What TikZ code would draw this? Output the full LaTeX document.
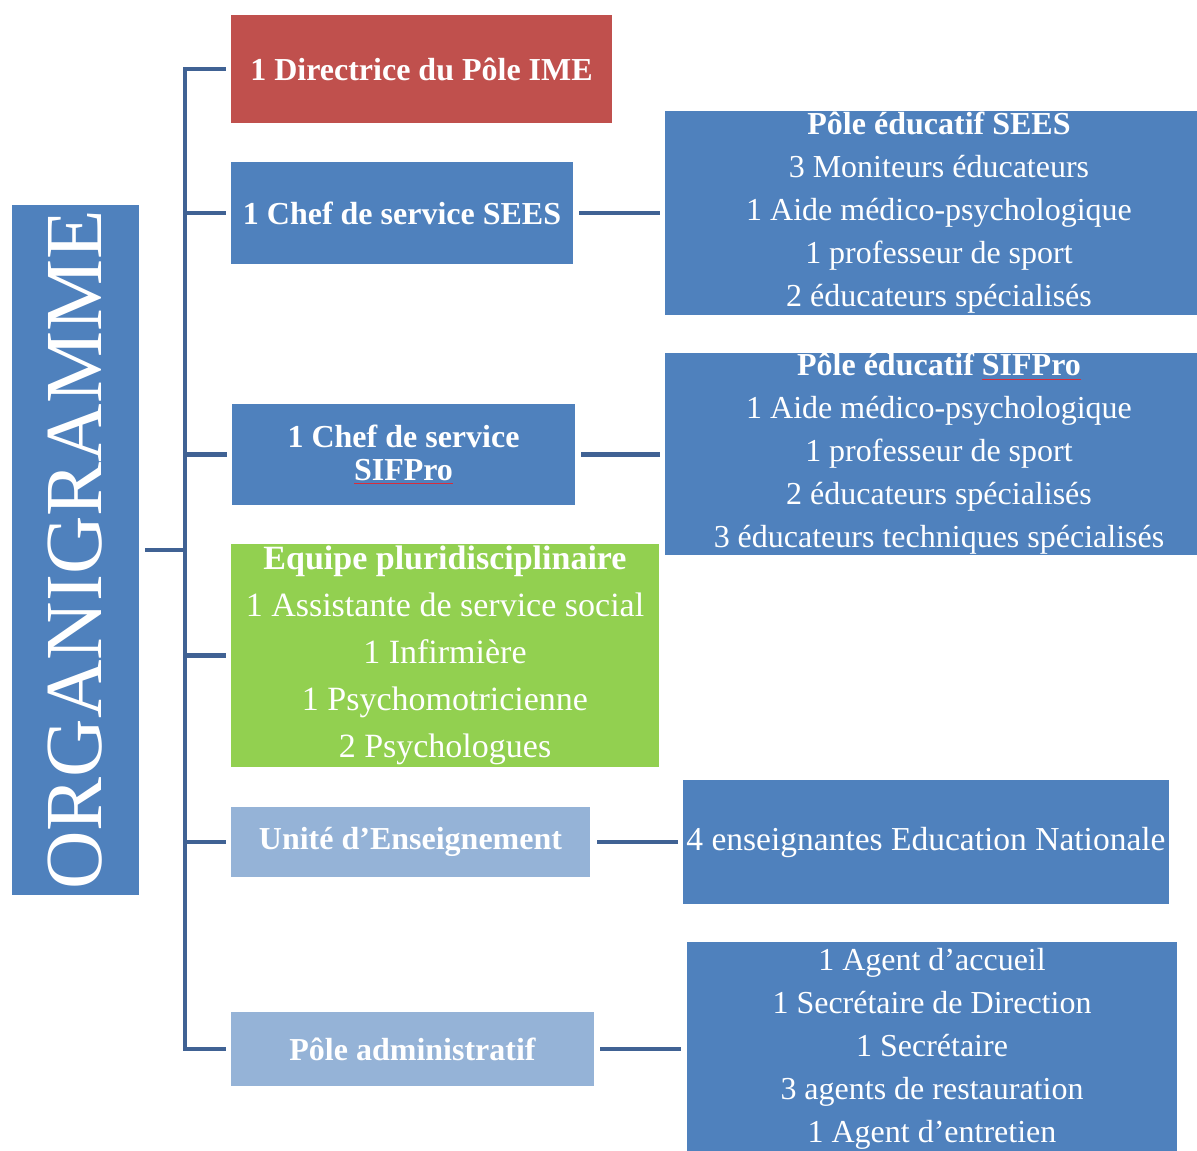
\documentclass[tikz,border=0pt]{standalone}
\usepackage{fontspec}
\setmainfont{Liberation Serif}
\usepackage{xcolor}
\usepackage{tikz}
\usetikzlibrary{positioning}

\definecolor{dirred}{HTML}{C0504D}
\definecolor{boxblue}{HTML}{4F81BD}
\definecolor{boxgreen}{HTML}{92D050}
\definecolor{paleblue}{HTML}{95B3D7}
\definecolor{linkblue}{RGB}{64,98,148}
\definecolor{spellred}{RGB}{215,45,60}
\newcommand{\spellmark}[1]{\setbox0\hbox{#1}\rlap{\color{spellred}\rule[-4pt]{\wd0}{0.8pt}}\box0}

\begin{document}
\begin{tikzpicture}[x=1pt, y=-1pt,
    orgbox/.style={rectangle, inner sep=0pt, text=white, align=center,
        font=\fontsize{32}{43}\selectfont},
    link/.style={linkblue, line width=4.5pt}]
    \useasboundingbox (0,0) rectangle (1197,1151);
    % title column
    \node[orgbox, fill=boxblue, minimum width=127pt, minimum height=690pt,
        font=\fontsize{81}{81}\selectfont] (org) at (75.5,550) {\rotatebox{90}{ORGANIGRAMME}};
    % first level
    \node[orgbox, fill=dirred, minimum width=381pt, minimum height=108pt] (dir) at (421.5,69) {\bfseries 1 Directrice du Pôle IME};
    \node[orgbox, fill=boxblue, minimum width=342pt, minimum height=102pt] (sees) at (402,213) {\bfseries 1 Chef de service SEES};
    \node[orgbox, fill=boxblue, minimum width=343pt, minimum height=101pt,
        font=\fontsize{32}{33}\selectfont\bfseries] (sifpro) at (403.5,454.5) {1 Chef de service\\ \spellmark{SIFPro}};
    \node[orgbox, fill=boxgreen, minimum width=428pt, minimum height=223pt,
        font=\fontsize{34}{47}\selectfont] (equipe) at (445,655.5) {{\bfseries Equipe pluridisciplinaire}\\ 1 Assistante de service social\\ 1 Infirmière\\ 1 Psychomotricienne\\ 2 Psychologues};
    \node[orgbox, fill=paleblue, minimum width=359pt, minimum height=70pt] (unite) at (410.5,842) {\bfseries Unité d’Enseignement};
    \node[orgbox, fill=paleblue, minimum width=363pt, minimum height=74pt] (admin) at (412.5,1049) {\bfseries Pôle administratif};
    % second level
    \node[orgbox, fill=boxblue, minimum width=548pt, minimum height=204pt] (psees) at (939,213) {{\bfseries Pôle éducatif SEES}\\ 3 Moniteurs éducateurs\\ 1 Aide médico-psychologique\\ 1 professeur de sport\\ 2 éducateurs spécialisés};
    \node[orgbox, fill=boxblue, minimum width=548pt, minimum height=200pt] (psifpro) at (939,454) {{\bfseries Pôle éducatif \spellmark{SIFPro}}\\ 1 Aide médico-psychologique\\ 1 professeur de sport\\ 2 éducateurs spécialisés\\ 3 éducateurs techniques spécialisés};
    \node[orgbox, fill=boxblue, minimum width=486pt, minimum height=124pt,
        font=\fontsize{33.5}{43}\selectfont] (pens) at (926,842) {4 enseignantes Education Nationale};
    \node[orgbox, fill=boxblue, minimum width=490pt, minimum height=213pt] (padmin) at (932,1048.5) {1 Agent d’accueil\\ 1 Secrétaire de Direction\\ 1 Secrétaire\\ 3 agents de restauration\\ 1 Agent d’entretien};
    % trunk and branches
    \coordinate (trunk) at (185,0);
    \draw[link, line cap=rect] (dir.west -| trunk) -- (admin.west -| trunk);
    \draw[link, shorten <=6pt] (org.east) -- (org.east -| trunk);
    \foreach \n in {dir, sees, sifpro, equipe, unite, admin} {
        \draw[link, shorten >=5pt] (\n.west -| trunk) -- (\n.west);
    }
    \draw[link, shorten <=6pt, shorten >=5pt] (sees.east) -- (sees.east -| psees.west);
    \draw[link, shorten <=6pt, shorten >=5pt] (sifpro.east) -- (sifpro.east -| psifpro.west);
    \draw[link, shorten <=7pt, shorten >=5pt] (unite.east) -- (unite.east -| pens.west);
    \draw[link, shorten <=6pt, shorten >=6pt] (admin.east) -- (admin.east -| padmin.west);
\end{tikzpicture}
\end{document}
